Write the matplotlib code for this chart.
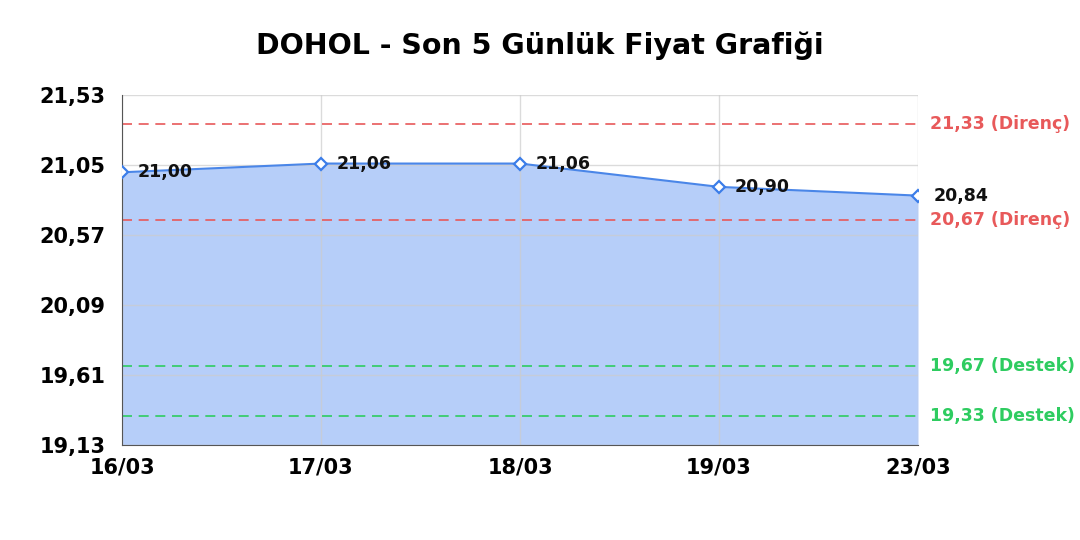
import numpy as np
import matplotlib.pyplot as plt

plt.rcParams['font.family'] = ['DejaVu Sans']

# data
dates = ['16/03', '17/03', '18/03', '19/03', '23/03']
prices = [21.00, 21.06, 21.06, 20.90, 20.84]
resistance = [21.33, 20.67]
support = [19.67, 19.33]
yticks = [19.13, 19.61, 20.09, 20.57, 21.05, 21.53]

fig = plt.figure(figsize=(10.8, 5.4), dpi=100)
ax = fig.add_axes([122/1080, 1 - 445/540, (918-122)/1080, (445-95)/540])

x = np.arange(len(dates))
ax.fill_between(x, prices, yticks[0], color='#4a86f0', alpha=0.4, lw=0, zorder=1)
ax.plot(x, prices, color='#4a86e8', lw=1.5, zorder=3)
ax.plot(x, prices, ls='none', marker='D', ms=6, mfc='white', mec='#3b7de9', mew=1.6, zorder=4)

for i, p in enumerate(prices):
    ax.annotate(f'{p:.2f}'.replace('.', ','), (x[i], p), xytext=(11, 0), textcoords='offset points',
                ha='left', va='center', fontsize=12.5, fontweight='bold', color='#111111', zorder=5)

for r in resistance:
    ax.axhline(r, color='#e8595a', ls=(0, (6, 4)), lw=1.2, zorder=2)
    ax.text(1.015, r, f'{r:.2f} (Direnç)'.replace('.', ','), transform=ax.get_yaxis_transform(),
            ha='left', va='center', fontsize=12.5, fontweight='bold', color='#e8595a')
for s in support:
    ax.axhline(s, color='#2ecc60', ls=(0, (6, 4)), lw=1.2, zorder=2)
    ax.text(1.015, s, f'{s:.2f} (Destek)'.replace('.', ','), transform=ax.get_yaxis_transform(),
            ha='left', va='center', fontsize=12.5, fontweight='bold', color='#2ecc60')

ax.set_xlim(0, len(dates) - 1)
ax.set_ylim(yticks[0], yticks[-1])
ax.set_xticks(x)
ax.set_xticklabels(dates, fontsize=15, fontweight='bold')
ax.set_yticks(yticks)
ax.set_yticklabels([f'{t:.2f}'.replace('.', ',') for t in yticks], fontsize=15, fontweight='bold')
ax.grid(True, color='#cccccc', lw=1, alpha=0.7, zorder=1.5)
for side in ['top', 'right']:
    ax.spines[side].set_visible(False)
ax.spines['left'].set_color('#555555')
ax.spines['bottom'].set_color('#555555')
ax.tick_params(axis='y', length=0, pad=12)
ax.tick_params(axis='x', length=0, pad=9)

fig.suptitle('DOHOL - Son 5 Günlük Fiyat Grafiği', y=1 - 46/540, va='center', fontsize=20.5, fontweight='bold')

fig.savefig('out.png', dpi=100)
